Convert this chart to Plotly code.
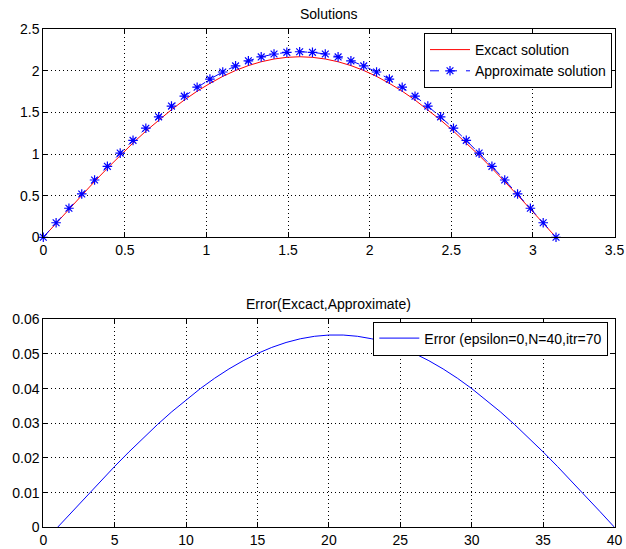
import plotly.graph_objects as go

# ---- data ----
x_sol = [0, 0.0785, 0.1571, 0.2356, 0.3142, 0.3927, 0.4712, 0.5498, 0.6283, 0.7069,
         0.7854, 0.8639, 0.9425, 1.0210, 1.0996, 1.1781, 1.2566, 1.3352, 1.4137, 1.4923,
         1.5708, 1.6493, 1.7279, 1.8064, 1.8850, 1.9635, 2.0420, 2.1206, 2.1991, 2.2777,
         2.3562, 2.4347, 2.5133, 2.5918, 2.6704, 2.7489, 2.8274, 2.9060, 2.9845, 3.0631,
         3.1416]

exact = [0, 0.170, 0.339, 0.507, 0.671, 0.830, 0.985, 1.134, 1.276, 1.409,
         1.534, 1.650, 1.756, 1.850, 1.934, 2.005, 2.064, 2.110, 2.143, 2.163,
         2.170, 2.163, 2.143, 2.110, 2.064, 2.005, 1.934, 1.850, 1.756, 1.650,
         1.534, 1.409, 1.276, 1.134, 0.985, 0.830, 0.671, 0.507, 0.339, 0.170,
         0]

approx = [0, 0.175, 0.349, 0.521, 0.689, 0.853, 1.012, 1.165, 1.311, 1.448,
          1.577, 1.696, 1.804, 1.901, 1.987, 2.060, 2.121, 2.168, 2.203, 2.223,
          2.230, 2.223, 2.203, 2.168, 2.121, 2.060, 1.987, 1.901, 1.804, 1.696,
          1.577, 1.448, 1.311, 1.165, 1.012, 0.853, 0.689, 0.521, 0.349, 0.175,
          0]

x_err = list(range(1, 41))
err = [0, 0.00447, 0.00890, 0.01328, 0.01758, 0.02175, 0.02579, 0.02966, 0.03334, 0.03680,
       0.04002, 0.04300, 0.04568, 0.04806, 0.05014, 0.05189, 0.05331, 0.05438, 0.05510, 0.05546,
       0.05546, 0.05510, 0.05438, 0.05331, 0.05189, 0.05014, 0.04806, 0.04568, 0.04300, 0.04002,
       0.03680, 0.03334, 0.02966, 0.02579, 0.02175, 0.01758, 0.01328, 0.00890, 0.00447, 0]

W, H = 626, 549
FONT = "Liberation Sans, Arial, Helvetica, sans-serif"
FS = 14

def px_x(p):
    return p / W

def px_y(p):
    return 1 - p / H

fig = go.Figure()

fig.add_trace(go.Scatter(x=x_sol, y=exact, mode="lines", name="Excact solution",
                         line=dict(color="rgb(255,0,0)", width=1),
                         xaxis="x", yaxis="y", legend="legend", cliponaxis=False))
fig.add_trace(go.Scatter(x=x_sol, y=approx, mode="lines+markers", name="Approximate solution",
                         line=dict(color="rgb(0,0,255)", width=1, dash="dash"),
                         marker=dict(symbol="asterisk-open", size=8,
                                     line=dict(color="rgb(0,0,255)", width=1.2)),
                         xaxis="x", yaxis="y", legend="legend", cliponaxis=False))
fig.add_trace(go.Scatter(x=x_err, y=err, mode="lines", name="Error (epsilon=0,N=40,itr=70",
                         line=dict(color="rgb(0,0,255)", width=1),
                         xaxis="x2", yaxis="y2", legend="legend2"))

axis_common = dict(
    showline=True, linecolor="black", linewidth=1, mirror="ticks",
    ticks="inside", ticklen=5, tickcolor="black", tickwidth=1,
    showgrid=True, gridcolor="black", gridwidth=1, griddash="1px,3px",
    zeroline=False, tickfont=dict(family=FONT, size=FS, color="black"),
    fixedrange=True, automargin=False,
)

xdom = [px_x(43.3), px_x(614.5)]
fig.update_layout(
    width=W, height=H, autosize=False,
    margin=dict(l=0, r=0, t=0, b=0, pad=0),
    paper_bgcolor="white", plot_bgcolor="white",
    font=dict(family=FONT, size=FS, color="black"),
    xaxis=dict(domain=xdom, range=[0, 3.5], tickvals=[0, 0.5, 1, 1.5, 2, 2.5, 3, 3.5],
               ticktext=["0", "0.5", "1", "1.5", "2", "2.5", "3", "3.5"], anchor="y", **axis_common),
    yaxis=dict(domain=[px_y(237.3), px_y(29.3)], range=[0, 2.5], tickvals=[0, 0.5, 1, 1.5, 2, 2.5],
               ticktext=["0", "0.5", "1", "1.5", "2", "2.5"], anchor="x", **axis_common),
    xaxis2=dict(domain=xdom, range=[0, 40], tickvals=[0, 5, 10, 15, 20, 25, 30, 35, 40],
                anchor="y2", **axis_common),
    yaxis2=dict(domain=[px_y(527.3), px_y(319.3)], range=[0, 0.06],
                tickvals=[0, 0.01, 0.02, 0.03, 0.04, 0.05, 0.06],
                ticktext=["0", "0.01", "0.02", "0.03", "0.04", "0.05", "0.06"],
                anchor="x2", **axis_common),
    legend=dict(x=px_x(612), y=px_y(33), xanchor="right", yanchor="top",
                bgcolor="white", bordercolor="black", borderwidth=1,
                font=dict(family=FONT, size=FS, color="black"),
                itemwidth=40, tracegroupgap=0),
    legend2=dict(x=px_x(608.3), y=px_y(321.5), xanchor="right", yanchor="top",
                 bgcolor="white", bordercolor="black", borderwidth=1,
                 font=dict(family=FONT, size=FS, color="black"),
                 itemwidth=40),
    showlegend=True,
    annotations=[
        dict(text="Solutions", x=(xdom[0] + xdom[1]) / 2, y=px_y(29.3), xref="paper", yref="paper",
             xanchor="center", yanchor="bottom", yshift=5, showarrow=False,
             font=dict(family=FONT, size=FS, color="black")),
        dict(text="Error(Excact,Approximate)", x=(xdom[0] + xdom[1]) / 2, y=px_y(319.3),
             xref="paper", yref="paper", xanchor="center", yanchor="bottom", yshift=5,
             showarrow=False, font=dict(family=FONT, size=FS, color="black")),
    ],
)

fig.write_html(
    "out.html",
    config={"displayModeBar": False, "staticPlot": True},
    post_script="document.body.style.margin='0';document.body.style.padding='0';"
                "document.documentElement.style.overflow='hidden';",
)
